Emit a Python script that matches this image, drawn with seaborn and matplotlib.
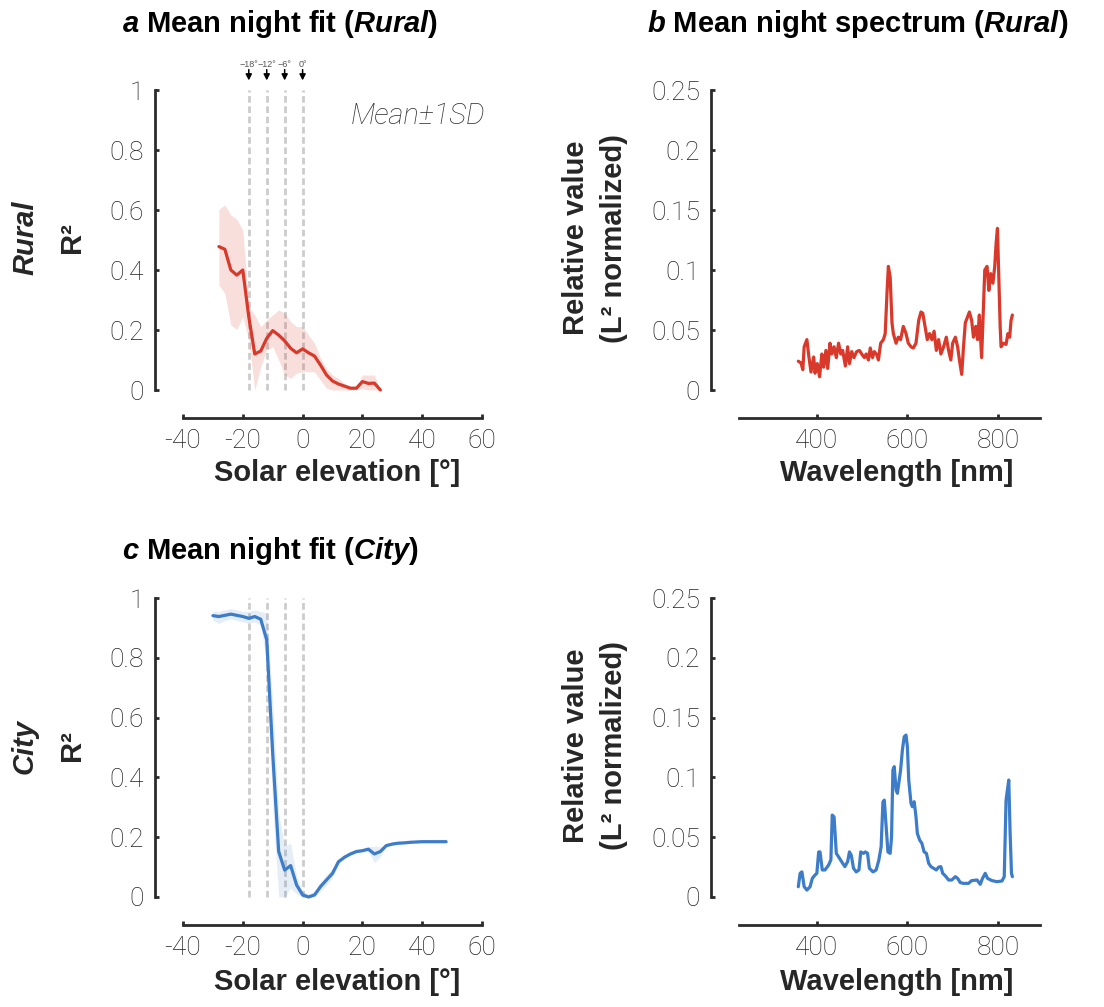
import numpy as np
import pandas as pd
import matplotlib
matplotlib.use("Agg")
import matplotlib.pyplot as plt
import seaborn as sns
from matplotlib import font_manager as fm

# ---------------- data ----------------
rural_elev = [-28, -26, -24, -22, -20, -18, -16, -14, -12, -10, -8, -6, -4, -2, 0,
              2, 4, 6, 8, 10, 12, 14, 16, 18, 20, 22, 24, 26]
rural_mean = [0.478, 0.469, 0.400, 0.383, 0.400, 0.244, 0.120, 0.130, 0.172, 0.198,
              0.183, 0.164, 0.139, 0.124, 0.137, 0.124, 0.113, 0.083, 0.050, 0.030,
              0.020, 0.013, 0.006, 0.006, 0.028, 0.022, 0.023, 0.000]
rural_upper = [0.602, 0.617, 0.583, 0.569, 0.533, 0.278, 0.250, 0.211, 0.233, 0.250,
               0.267, 0.256, 0.228, 0.211, 0.211, 0.183, 0.156, 0.106, 0.072, 0.050,
               0.039, 0.022, 0.011, 0.009, 0.050, 0.050, 0.050, 0.000]
rural_lower = [0.350, 0.322, 0.217, 0.202, 0.244, 0.167, 0.000, 0.078, 0.133, 0.144,
               0.100, 0.050, 0.039, 0.056, 0.061, 0.061, 0.061, 0.033, 0.006, 0.000,
               0.000, 0.000, 0.000, 0.000, 0.005, 0.000, 0.000, 0.000]

city_elev = [-30, -28, -26, -24, -22, -20, -18, -16, -14, -12, -10, -8, -6, -4, -2, 0,
             2, 4, 6, 8, 10, 12, 14, 16, 18, 20, 22, 24, 26, 28, 30, 32, 34, 36, 38,
             40, 42, 44, 46, 48]
city_mean = [0.941, 0.938, 0.942, 0.946, 0.942, 0.938, 0.932, 0.938, 0.929, 0.860,
             0.480, 0.152, 0.090, 0.105, 0.040, 0.007, 0.000, 0.007, 0.035, 0.057,
             0.079, 0.118, 0.133, 0.144, 0.152, 0.155, 0.160, 0.144, 0.152, 0.172,
             0.177, 0.180, 0.181, 0.183, 0.184, 0.185, 0.185, 0.185, 0.185, 0.185]
city_upper = [0.955, 0.955, 0.960, 0.965, 0.960, 0.955, 0.955, 0.960, 0.955, 0.950,
              0.650, 0.280, 0.170, 0.180, 0.070, 0.020, 0.010, 0.020, 0.050, 0.075,
              0.095, 0.125, 0.138, 0.148, 0.156, 0.160, 0.168, 0.170, 0.168, 0.176,
              0.180, 0.183, 0.184, 0.186, 0.187, 0.188, 0.188, 0.188, 0.188, 0.188]
city_lower = [0.925, 0.915, 0.925, 0.930, 0.925, 0.920, 0.915, 0.920, 0.910, 0.780,
              0.300, 0.000, 0.000, 0.030, 0.010, 0.000, 0.000, 0.000, 0.020, 0.040,
              0.065, 0.110, 0.128, 0.140, 0.148, 0.150, 0.152, 0.115, 0.135, 0.168,
              0.174, 0.177, 0.178, 0.180, 0.181, 0.182, 0.182, 0.182, 0.182, 0.182]

rural_wl = [359, 365, 369, 372, 378, 382, 387, 393, 396, 401, 406, 411, 415, 420, 424,
            429, 433, 438, 443, 448, 453, 457, 463, 468, 472, 477, 482, 488, 494, 499,
            505, 509, 514, 518, 523, 527, 533, 536, 541, 547, 551, 555, 558, 562, 566,
            569, 575, 580, 585, 591, 597, 602, 608, 613, 619, 625, 630, 634, 639, 644,
            649, 654, 659, 664, 669, 674, 680, 686, 691, 696, 700, 706, 711, 715, 720,
            724, 728, 733, 737, 742, 746, 751, 755, 759, 764, 767, 771, 776, 780, 784,
            789, 793, 796, 799, 802, 805, 807, 812, 818, 822, 826, 829, 832]
rural_val = [0.024, 0.0225, 0.017, 0.036, 0.042, 0.029, 0.015, 0.0275, 0.014, 0.022,
             0.011, 0.030, 0.019, 0.033, 0.018, 0.039, 0.030, 0.036, 0.027, 0.039,
             0.030, 0.033, 0.020, 0.036, 0.022, 0.032, 0.027, 0.032, 0.033, 0.030,
             0.027, 0.030, 0.025, 0.035, 0.027, 0.032, 0.029, 0.025, 0.039, 0.042,
             0.047, 0.081, 0.103, 0.094, 0.056, 0.047, 0.039, 0.044, 0.042, 0.053,
             0.047, 0.039, 0.036, 0.035, 0.039, 0.058, 0.065, 0.064, 0.053, 0.042,
             0.047, 0.042, 0.049, 0.033, 0.042, 0.030, 0.036, 0.044, 0.033, 0.025,
             0.039, 0.044, 0.036, 0.025, 0.013, 0.036, 0.056, 0.061, 0.065, 0.058,
             0.044, 0.053, 0.042, 0.0625, 0.027, 0.058, 0.100, 0.103, 0.083, 0.097,
             0.089, 0.103, 0.122, 0.1347, 0.094, 0.053, 0.036, 0.039, 0.038, 0.047,
             0.044, 0.058, 0.0625]

city_wl = [359, 363, 367, 372, 378, 385, 390, 396, 400, 404, 407, 412, 418, 426, 431,
           434, 438, 443, 450, 457, 462, 468, 472, 476, 481, 487, 493, 497, 503, 507,
           512, 516, 524, 531, 537, 542, 546, 549, 553, 557, 562, 565, 568, 571, 575,
           578, 582, 585, 589, 593, 597, 600, 603, 608, 611, 615, 619, 622, 627, 632,
           637, 642, 647, 652, 658, 664, 669, 674, 678, 684, 691, 698, 706, 711, 717,
           724, 735, 742, 754, 761, 766, 772, 777, 787, 798, 809, 814, 818, 821, 824,
           827, 830, 832]
city_val = [0.0086, 0.0198, 0.021, 0.0086, 0.0058, 0.0086, 0.0156, 0.0184, 0.0198,
            0.0377, 0.0377, 0.0226, 0.0226, 0.0268, 0.031, 0.0685, 0.067, 0.0365,
            0.0324, 0.0282, 0.0254, 0.0296, 0.0377, 0.035, 0.024, 0.021, 0.0226,
            0.0377, 0.0365, 0.0377, 0.0365, 0.024, 0.021, 0.0226, 0.031, 0.042,
            0.0795, 0.081, 0.0593, 0.0377, 0.0365, 0.050, 0.1061, 0.109, 0.0895,
            0.0867, 0.0978, 0.1061, 0.1229, 0.134, 0.1354, 0.1257, 0.0978, 0.0783,
            0.0755, 0.0797, 0.0672, 0.0532, 0.0477, 0.0449, 0.0377, 0.0365, 0.0282,
            0.0254, 0.024, 0.0226, 0.025, 0.0254, 0.0198, 0.0176, 0.0142, 0.0142,
            0.017, 0.0156, 0.012, 0.0114, 0.0114, 0.0137, 0.0142, 0.0106, 0.0156,
            0.0198, 0.0156, 0.0137, 0.0128, 0.0134, 0.017, 0.081, 0.0895, 0.0978,
            0.0532, 0.0198, 0.017]

twilight_angles = [-18, -12, -6, 0]
twilight_labels = ["\u221218\u00b0", "\u221212\u00b0", "\u22126\u00b0", "0\u00b0"]
elev_ticks = [-40, -20, 0, 20, 40, 60]
r2_ticks = [0, 0.2, 0.4, 0.6, 0.8, 1]
r2_ticklabels = ["0", "0.2", "0.4", "0.6", "0.8", "1"]
spec_ticks = [0, 0.05, 0.1, 0.15, 0.2, 0.25]
spec_ticklabels = ["0", "0.05", "0.1", "0.15", "0.2", "0.25"]
wl_ticks = [400, 600, 800]

# ---------------- style ----------------
sns.set_style("ticks")


def pick_light():
    for fam in ["Roboto", "Lato", "Open Sans", "Inter", "Noto Sans"]:
        for f in fm.fontManager.ttflist:
            if f.name == fam and isinstance(f.weight, int) and f.weight <= 300:
                return fam
    return "DejaVu Sans"


LIGHT = pick_light()
BOLD = "Liberation Sans"
plt.rcParams["font.family"] = [LIGHT, "DejaVu Sans"]
plt.rcParams["mathtext.fontset"] = "custom"
plt.rcParams["mathtext.it"] = "Liberation Sans:italic:bold"
plt.rcParams["mathtext.rm"] = "Liberation Sans:bold"
plt.rcParams["mathtext.bf"] = "Liberation Sans:bold"

RED = "#d8392a"
BLUE = "#3c7cc8"
DARK = "#2b2b2b"
W, H = 1104, 1007


def fx(px):
    return px / W


def fy(py):
    return 1 - py / H


fig = plt.figure(figsize=(W / 100, H / 100), dpi=100)

ax_a = fig.add_axes([fx(183), fy(390), 299 / W, 300 / H])
ax_b = fig.add_axes([fx(739), fy(390), 301 / W, 300 / H])
ax_c = fig.add_axes([fx(183), fy(897), 299 / W, 299 / H])
ax_d = fig.add_axes([fx(739), fy(897), 301 / W, 299 / H])


def style_axis(ax):
    sns.despine(ax=ax, offset=20)
    for s in ["left", "bottom"]:
        ax.spines[s].set_linewidth(2)
        ax.spines[s].set_color(DARK)
    ax.tick_params(direction="in", length=3, width=2, color=DARK,
                   labelsize=19, labelcolor="#222222", pad=8)
    for lab in ax.get_xticklabels() + ax.get_yticklabels():
        lab.set_fontweight("light")
    ax.set_xlabel("")
    ax.set_ylabel("")
    ax.grid(False)


# ---- fit panels ----
fit_panels = [
    (ax_a, rural_elev, rural_mean, rural_lower, rural_upper, RED, 0.16),
    (ax_c, city_elev, city_mean, city_lower, city_upper, BLUE, 0.13),
]
for ax, xe, m, lo, hi, col, al in fit_panels:
    for t in twilight_angles:
        ax.axvline(t, ymin=0, ymax=1, color="#cccccc", lw=2,
                   dashes=(2.4, 1.3), zorder=1)
    ax.fill_between(xe, lo, hi, color=col, alpha=al, lw=0, zorder=2)
    df = pd.DataFrame({"elev": xe, "r2": m})
    sns.lineplot(data=df, x="elev", y="r2", ax=ax, color=col, lw=2.3, zorder=3)
    for ln in ax.lines:
        ln.set_clip_on(False)
    ax.set_xlim(-40, 60)
    ax.set_ylim(0, 1)
    ax.set_xticks(elev_ticks)
    ax.set_xticklabels([str(v) for v in elev_ticks])
    ax.set_yticks(r2_ticks)
    ax.set_yticklabels(r2_ticklabels)
    style_axis(ax)

# twilight annotations on panel a
for t, lab in zip(twilight_angles, twilight_labels):
    ax_a.text(t, 1.085, lab, ha="center", va="center", fontsize=6.5,
              color="#555555", clip_on=False, family=[BOLD, "DejaVu Sans"])
    ax_a.annotate("", xy=(t, 1.032), xytext=(t, 1.068), xycoords="data",
                  arrowprops=dict(arrowstyle="-|>,head_length=0.35,head_width=0.18",
                                  color="black", lw=1.1, shrinkA=0, shrinkB=0),
                  annotation_clip=False)

ax_a.text(0.785, 0.913, "Mean\u00b11SD", transform=ax_a.transAxes, ha="center",
          va="center", fontsize=21, style="italic", fontweight="light",
          color="#333333")

# ---- spectrum panels ----
spec_panels = [
    (ax_b, rural_wl, rural_val, RED),
    (ax_d, city_wl, city_val, BLUE),
]
for ax, wl, val, col in spec_panels:
    df = pd.DataFrame({"wl": wl, "val": val})
    sns.lineplot(data=df, x="wl", y="val", ax=ax, color=col, lw=2.3)
    ax.set_xlim(228, 893)
    ax.set_ylim(0, 0.25)
    ax.set_xticks(wl_ticks)
    ax.set_xticklabels([str(v) for v in wl_ticks])
    ax.set_yticks(spec_ticks)
    ax.set_yticklabels(spec_ticklabels)
    style_axis(ax)

# ---------------- text ----------------
bold_kw = dict(family=[BOLD, "DejaVu Sans"], fontweight="bold", color="#262626")
title_kw = dict(ha="left", va="center", fontsize=21, family=[BOLD],
                fontweight="bold", color="black")

fig.text(fx(122), fy(24), r"$\it{a}$ Mean night fit ($\it{Rural}$)", **title_kw)
fig.text(fx(647), fy(24), r"$\it{b}$ Mean night spectrum ($\it{Rural}$)", **title_kw)
fig.text(fx(122), fy(551), r"$\it{c}$ Mean night fit ($\it{City}$)", **title_kw)

for yc, name in [(238, "Rural"), (746, "City")]:
    fig.text(fx(25), fy(yc), name, rotation=90, ha="center", va="center",
             fontsize=21, style="italic", **bold_kw)
    fig.text(fx(72), fy(yc), "R\u00b2", rotation=90, ha="center", va="center",
             fontsize=21, **bold_kw)
    fig.text(fx(576), fy(yc), "Relative value", rotation=90, ha="center",
             va="center", fontsize=21, **bold_kw)
    fig.text(fx(614), fy(yc), "(L\u00b2 normalized)", rotation=90, ha="center",
             va="center", fontsize=21, **bold_kw)

for yc in [473, 982]:
    fig.text(fx(337), fy(yc), "Solar elevation [\u00b0]", ha="center",
             va="center", fontsize=21, **bold_kw)
    fig.text(fx(897), fy(yc), "Wavelength [nm]", ha="center", va="center",
             fontsize=21, **bold_kw)

fig.savefig("out.png", dpi=100)
